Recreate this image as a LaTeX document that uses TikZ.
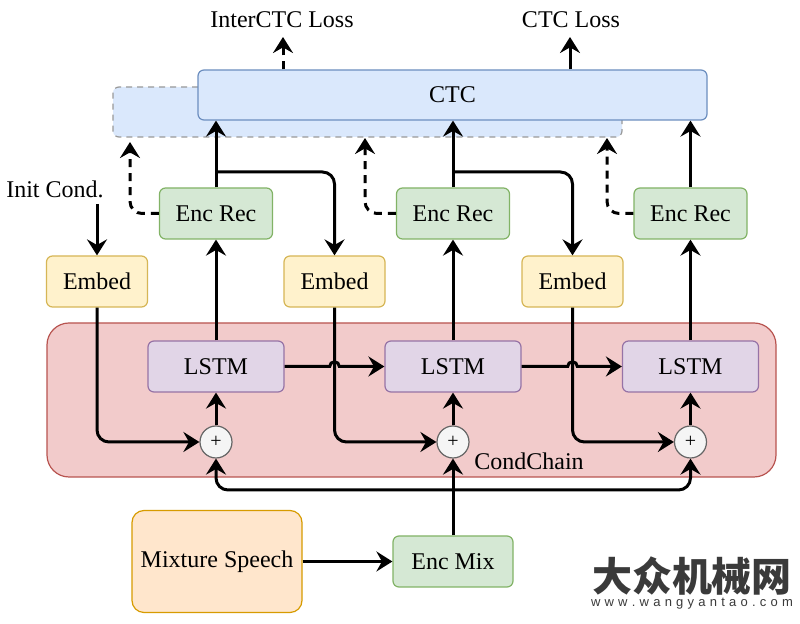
\documentclass[tikz,border=0pt]{standalone}
\usepackage{fontspec}
\setmainfont{Liberation Serif}
\newfontfamily\cjk{Noto Sans CJK SC}
\newfontfamily\urlfont{Liberation Sans}
\usetikzlibrary{arrows.meta}
\definecolor{bluef}{HTML}{DAE8FC}\definecolor{bluel}{HTML}{6C8EBF}
\definecolor{greenf}{HTML}{D5E8D4}\definecolor{greenl}{HTML}{82B366}
\definecolor{yelf}{HTML}{FFF2CC}\definecolor{yell}{HTML}{D6B656}
\definecolor{redf}{HTML}{F2CBCB}\definecolor{redl}{HTML}{B85450}
\definecolor{purf}{HTML}{E1D5E7}\definecolor{purl}{HTML}{9673A6}
\definecolor{oraf}{HTML}{FFE6CC}\definecolor{oral}{HTML}{D79B00}
\definecolor{greyf}{HTML}{F5F5F5}\definecolor{greyl}{HTML}{666666}
\definecolor{wmgrey}{HTML}{3A3A3A}
\tikzset{
  box/.style={draw, rounded corners=3pt, line width=0.6pt, inner sep=0pt, align=center},
  ctcbox/.style={box, fill=bluef, draw=bluel, minimum width=254.5pt, minimum height=25pt},
  shadowbox/.style={box, fill=bluef, draw=gray!80, dash pattern=on 3pt off 2.5pt, minimum width=254.5pt, minimum height=25pt},
  encbox/.style={box, fill=greenf, draw=greenl, minimum width=56.5pt, minimum height=25.5pt},
  mixbox/.style={box, fill=greenf, draw=greenl, minimum width=60pt, minimum height=25.5pt},
  embbox/.style={box, fill=yelf, draw=yell, minimum width=50.5pt, minimum height=25.5pt},
  lstmbox/.style={box, fill=purf, draw=purl, minimum width=68pt, minimum height=25.5pt},
  ccbox/.style={box, rounded corners=11pt, fill=redf, draw=redl, minimum width=364.5pt, minimum height=77pt},
  speechbox/.style={box, rounded corners=6pt, fill=oraf, draw=oral, minimum width=85pt, minimum height=51pt},
  plusnode/.style={circle, draw=greyl, fill=greyf, line width=0.6pt, minimum size=16pt, inner sep=0pt, font=\fontsize{10}{11}\selectfont},
  lbl/.style={inner sep=0pt},
  arr/.style={line width=1.5pt, -{Stealth[length=8pt,width=10pt,inset=2.8pt]}},
  darr/.style={arr, dash pattern=on 4pt off 3pt},
}
\begin{document}
\begin{tikzpicture}[x=0.5pt,y=-0.5pt, font=\fontsize{12}{14}\selectfont]
\fill[white] (0,0) rectangle (800,624);
\useasboundingbox (0,0) rectangle (800,624);

% boxes
\node[shadowbox] (shadow) at (367.5,112) {};
\node[ctcbox] (ctc) at (452.5,95) {CTC};
\node[ccbox] (cc) at (411.5,400) {};

\node[encbox] (r1) at (216,213.5) {Enc Rec};
\node[encbox] (r2) at (453,213.5) {Enc Rec};
\node[encbox] (r3) at (690.5,213.5) {Enc Rec};

\node[embbox] (e1) at (97,281.5) {Embed};
\node[embbox] (e2) at (334.5,281.5) {Embed};
\node[embbox] (e3) at (572.5,281.5) {Embed};

\node[lstmbox] (l1) at (216,366.5) {LSTM};
\node[lstmbox] (l2) at (453,366.5) {LSTM};
\node[lstmbox] (l3) at (690.5,366.5) {LSTM};

\node[plusnode] (p1) at (216,442) {+};
\node[plusnode] (p2) at (453,442) {+};
\node[plusnode] (p3) at (690.5,442) {+};

\node[mixbox] (em) at (453,561.5) {Enc Mix};
\node[speechbox] (ms) at (217,561.5) {Mixture Speech};

% labels
\node[lbl] (ilbl) at (282,20) {InterCTC Loss};
\node[lbl] (clbl) at (571,20) {CTC Loss};
\node[lbl] (init) at (55,189) {Init Cond.};
\node[lbl] (ccl) at (529,461) {CondChain};

% coordinates
\coordinate (ia) at (283,37);
\coordinate (ca) at (570,37);
\coordinate (ic) at (97,204);
\coordinate (b1) at (216,172);
\coordinate (b2) at (453,172);
\coordinate (d1) at (130,142);
\coordinate (d2) at (365,138);
\coordinate (d3) at (607,138);
\coordinate (bus) at (453,490);

% loss arrows
\draw[darr] (ctc.north -| ia) -- (ia);
\draw[arr] (ctc.north -| ca) -- (ca);

% enc rec to ctc
\draw[arr] (r1.north) -- (ctc.south -| r1.north);
\draw[arr] (r2.north) -- (ctc.south -| r2.north);
\draw[arr] (r3.north) -- (ctc.south -| r3.north);

% branches to embeds
\draw[arr, rounded corners=6pt] (b1) -| (e2.north);
\draw[arr, rounded corners=6pt] (b2) -| (e3.north);

% dashed intermediate arrows
\draw[darr, rounded corners=6pt] (r1.west) -| (d1);
\draw[darr, rounded corners=6pt] (r2.west) -| (d2);
\draw[darr, rounded corners=6pt] (r3.west) -| (d3);

% init cond
\draw[arr] (ic) -- (e1.north);

% lstm to enc rec
\draw[arr] (l1.north) -- (r1.south);
\draw[arr] (l2.north) -- (r2.south);
\draw[arr] (l3.north) -- (r3.south);

% embed to plus
\draw[arr, rounded corners=6pt] (e1.south) |- (p1.west);
\draw[arr, rounded corners=6pt] (e2.south) |- (p2.west);
\draw[arr, rounded corners=6pt] (e3.south) |- (p3.west);

% plus to lstm
\draw[arr] (p1.north) -- (l1.south);
\draw[arr] (p2.north) -- (l2.south);
\draw[arr] (p3.north) -- (l3.south);

% lstm chain with hops
\draw[arr] (l1.east) -- ([xshift=-2.4pt]e2.south |- l1.east)
  arc[start angle=180, end angle=0, radius=2.4pt] -- (l2.west);
\draw[arr] (l2.east) -- ([xshift=-2.4pt]e3.south |- l2.east)
  arc[start angle=180, end angle=0, radius=2.4pt] -- (l3.west);

% enc mix bus
\draw[arr] (em.north) -- (p2.south);
\draw[arr, rounded corners=6pt] (bus) -| (p1.south);
\draw[arr, rounded corners=6pt] (bus) -| (p3.south);

% mixture speech to enc mix
\draw[arr] (ms.east) -- (em.west);

% watermark
\node[lbl, text=wmgrey] (wm) at (692,576) {\cjk\bfseries\fontsize{20}{22}\selectfont 大众机械网};
\node[lbl, text=wmgrey] (wu) at (692,604) {\urlfont\fontsize{6.5}{7}\selectfont\makebox[101pt][s]{w\hfill w\hfill w\hfill .\hfill w\hfill a\hfill n\hfill g\hfill y\hfill a\hfill n\hfill t\hfill a\hfill o\hfill .\hfill c\hfill o\hfill m}};
\end{tikzpicture}
\end{document}
